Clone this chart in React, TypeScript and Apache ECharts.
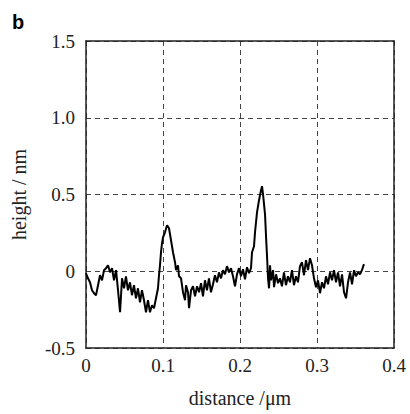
import React, { useEffect, useRef } from "react";
import * as echarts from "echarts";

const distance = [
  0.000, 0.0026, 0.0052, 0.0078, 0.0104, 0.0130, 0.0156, 0.0182, 0.0208, 0.0234,
  0.0260, 0.0286, 0.0312, 0.0338, 0.0364, 0.0390, 0.0416, 0.0442, 0.0468, 0.0494,
  0.0519, 0.0545, 0.0571, 0.0597, 0.0623, 0.0649, 0.0675, 0.0701, 0.0727, 0.0753,
  0.0779, 0.0805, 0.0831, 0.0857, 0.0883, 0.0909, 0.0935, 0.0948, 0.0961, 0.0974,
  0.0987, 0.1000, 0.1026, 0.1052, 0.1078, 0.1104, 0.1130, 0.1156, 0.1169, 0.1195,
  0.1208, 0.1234, 0.1260, 0.1286, 0.1299, 0.1325, 0.1338, 0.1364, 0.1390, 0.1416,
  0.1442, 0.1468, 0.1494, 0.1519, 0.1545, 0.1571, 0.1597, 0.1623, 0.1649, 0.1675,
  0.1701, 0.1727, 0.1753, 0.1779, 0.1805, 0.1831, 0.1857, 0.1883, 0.1909, 0.1935,
  0.1961, 0.1987, 0.2013, 0.2039, 0.2065, 0.2091, 0.2117, 0.2143, 0.2156, 0.2182,
  0.2195, 0.2221, 0.2247, 0.2273, 0.2286, 0.2299, 0.2325, 0.2338, 0.2351, 0.2364,
  0.2377, 0.2390, 0.2403, 0.2429, 0.2442, 0.2468, 0.2494, 0.2519, 0.2545, 0.2571,
  0.2597, 0.2623, 0.2649, 0.2675, 0.2701, 0.2727, 0.2753, 0.2779, 0.2805, 0.2831,
  0.2857, 0.2883, 0.2909, 0.2935, 0.2961, 0.2987, 0.3013, 0.3039, 0.3065, 0.3091,
  0.3117, 0.3143, 0.3169, 0.3195, 0.3221, 0.3247, 0.3273, 0.3299, 0.3325, 0.3351,
  0.3377, 0.3403, 0.3429, 0.3455, 0.3481, 0.3506, 0.3532, 0.3558, 0.3584, 0.3610,
];

const height = [
  -0.013, -0.046, -0.072, -0.124, -0.143, -0.156, -0.091, -0.026, -0.059, 0.007,
  0.020, 0.039, -0.007, 0.020, -0.059, 0.007, -0.124, -0.267, -0.046, -0.111,
  -0.033, -0.124, -0.072, -0.156, -0.091, -0.176, -0.111, -0.202, -0.124, -0.189,
  -0.267, -0.189, -0.267, -0.221, -0.241, -0.176, -0.111, -0.026, 0.039, 0.124,
  0.182, 0.221, 0.254, 0.300, 0.280, 0.202, 0.124, 0.059, 0.007, 0.039,
  -0.033, -0.046, -0.137, -0.189, -0.091, -0.137, -0.241, -0.124, -0.098, -0.163,
  -0.098, -0.137, -0.078, -0.163, -0.059, -0.124, -0.046, -0.137, -0.085, -0.026,
  -0.072, -0.007, -0.046, 0.007, -0.020, 0.033, -0.007, 0.020, -0.033, -0.098,
  -0.020, 0.020, -0.033, 0.013, -0.052, 0.026, -0.013, 0.020, 0.124, 0.163,
  0.254, 0.384, 0.463, 0.528, 0.554, 0.502, 0.371, 0.228, 0.098, -0.046,
  -0.111, 0.039, -0.059, 0.007, -0.104, -0.020, -0.078, -0.046, -0.098, -0.007,
  -0.091, -0.033, -0.072, 0.007, -0.091, -0.033, -0.072, 0.033, 0.059, -0.026,
  0.072, 0.007, 0.085, 0.039, -0.046, -0.104, -0.059, -0.143, -0.072, -0.111,
  -0.033, -0.085, -0.007, -0.059, 0.007, -0.072, -0.007, -0.098, -0.020, -0.137,
  -0.176, -0.072, -0.007, -0.085, 0.007, -0.033, -0.007, -0.020, 0.007, 0.046,
];

const xTicks = [0, 0.1, 0.2, 0.3, 0.4];
const yTickLabels = ["-0.5", "0", "0.5", "1.0", "1.5"];
const yMin = -0.5;
const yMax = 1.5;

const serif = "Liberation Serif";
const labelText = { fontFamily: serif, fontSize: 19, color: "#222" };

export default function App() {
  const ref = useRef<HTMLDivElement>(null);
  useEffect(() => {
    if (!ref.current) return;
    const chart = echarts.init(ref.current, undefined, { renderer: "svg" });
    const data = distance.map((d, i) => [d, height[i]]);
    const gridLine = { show: true, lineStyle: { color: "#444", type: [5, 4] as any, width: 1 } };
    const frameLine = { show: true, onZero: false, lineStyle: { color: "#222", width: 1.5 } };
    chart.setOption({
      animation: false,
      textStyle: { fontFamily: serif },
      grid: { left: 86, top: 41, right: 16, bottom: 66 },
      xAxis: [
        {
          type: "value",
          min: xTicks[0],
          max: xTicks[xTicks.length - 1],
          interval: 0.1,
          name: "distance /\u03bcm",
          nameLocation: "middle",
          nameGap: 40,
          nameTextStyle: { fontFamily: serif, fontSize: 20, color: "#222" },
          axisLine: frameLine,
          axisTick: { show: false },
          axisLabel: { ...labelText, margin: 8, textStyle: labelText },
          splitLine: gridLine,
        },
        {
          type: "value",
          position: "top",
          min: xTicks[0],
          max: xTicks[xTicks.length - 1],
          interval: 0.1,
          axisLine: frameLine,
          axisTick: { show: false },
          axisLabel: { show: false },
          splitLine: { show: false },
        },
      ],
      yAxis: [
        {
          type: "value",
          min: yMin,
          max: yMax,
          interval: 0.5,
          name: "height / nm",
          nameLocation: "middle",
          nameGap: 57,
          nameTextStyle: { fontFamily: serif, fontSize: 20, color: "#222" },
          axisLine: frameLine,
          axisTick: { show: false },
          axisLabel: { show: false },
          splitLine: gridLine,
        },
        {
          type: "category",
          position: "left",
          data: yTickLabels,
          boundaryGap: false,
          axisLine: { show: false },
          axisTick: { show: false },
          splitLine: { show: false },
          axisLabel: { ...labelText, margin: 11, interval: 0, textStyle: labelText },
        },
        {
          type: "value",
          position: "right",
          min: yMin,
          max: yMax,
          interval: 0.5,
          axisLine: frameLine,
          axisTick: { show: false },
          axisLabel: { show: false },
          splitLine: { show: false },
        },
      ],
      series: [
        {
          type: "line",
          data,
          xAxisIndex: 0,
          yAxisIndex: 0,
          symbol: "none",
          lineStyle: { color: "#000", width: 2 },
          itemStyle: { color: "#000" },
        },
      ],
    });
    return () => chart.dispose();
  }, []);
  return (
    <div style={{ position: "absolute", left: 0, top: 0, width: 410, height: 414, background: "#fff" }}>
      <div ref={ref} style={{ width: 410, height: 414, position: "absolute", left: 0, top: 0 }} />
      <div
        style={{
          position: "absolute",
          left: 12,
          top: 10,
          fontFamily: "'Liberation Sans', Arial, sans-serif",
          fontWeight: "bold",
          fontSize: 20,
          lineHeight: "24px",
          color: "#000",
        }}
      >
        b
      </div>
    </div>
  );
}
